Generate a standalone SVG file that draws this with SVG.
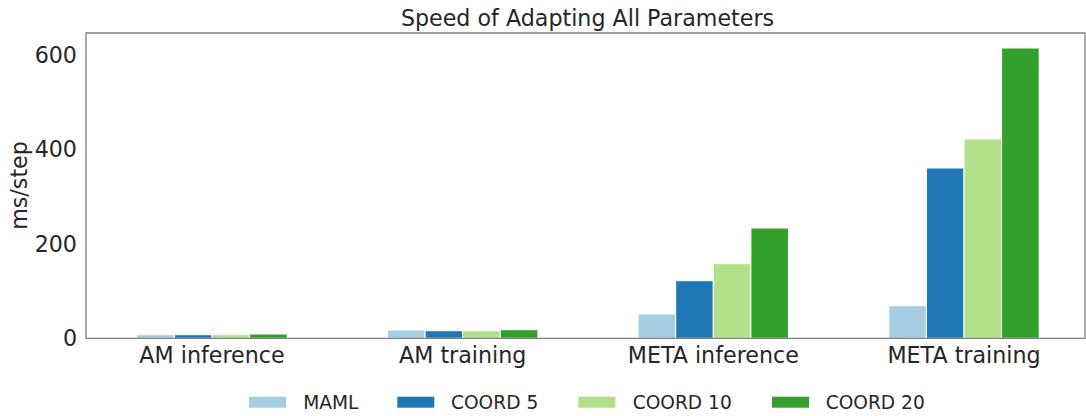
<svg xmlns="http://www.w3.org/2000/svg" width="1086" height="416" viewBox="0 0 1086 416">
<style>
text{font-family:"DejaVu Sans","Liberation Sans",sans-serif;fill:#262626}
.t{font-size:22.2px}
.tick{font-size:22.2px}
.lg{font-size:18.6px}
.b{stroke:#fff;stroke-width:1}
.c1{fill:#a6cee3}.c2{fill:#1f78b4}.c3{fill:#b2df8a}.c4{fill:#33a02c}
.sp{fill:none;stroke:#808080;stroke-width:1.3}
</style>
<rect width="1086" height="416" fill="#fff"/>
<text class="t" x="587.5" y="26" text-anchor="middle">Speed of Adapting All Parameters</text>
<g id="bars">
<g id="am-inference">
<rect class="b c1" x="136.8" y="334.7" width="37.6" height="3.6"/>
<rect class="b c2" x="174.4" y="334.7" width="37.6" height="3.6"/>
<rect class="b c3" x="212" y="334.7" width="37.6" height="3.6"/>
<rect class="b c4" x="249.6" y="334" width="37.6" height="4.3"/>
</g>
<g id="am-training">
<rect class="b c1" x="387.5" y="330" width="37.6" height="8.3"/>
<rect class="b c2" x="425.1" y="330.7" width="37.6" height="7.6"/>
<rect class="b c3" x="462.7" y="330.7" width="37.6" height="7.6"/>
<rect class="b c4" x="500.3" y="329.7" width="37.6" height="8.6"/>
</g>
<g id="meta-inference">
<rect class="b c1" x="638.1" y="314" width="37.6" height="24.3"/>
<rect class="b c2" x="675.7" y="280.7" width="37.6" height="57.6"/>
<rect class="b c3" x="713.3" y="263.7" width="37.6" height="74.6"/>
<rect class="b c4" x="750.9" y="228" width="37.6" height="110.3"/>
</g>
<g id="meta-training">
<rect class="b c1" x="888.8" y="305.7" width="37.6" height="32.6"/>
<rect class="b c2" x="926.4" y="168" width="37.6" height="170.3"/>
<rect class="b c3" x="964" y="139" width="37.6" height="199.3"/>
<rect class="b c4" x="1001.6" y="48" width="37.6" height="290.3"/>
</g>
</g>
<g id="axes">
<path class="sp" d="M86 338.3V33H1085V338.3Z"/>
<g class="tick" text-anchor="end">
<text x="77" y="346.4">0</text>
<text x="77" y="251.9">200</text>
<text x="77" y="157.4">400</text>
<text x="77" y="62.9">600</text>
</g>
<g class="tick" text-anchor="middle">
<text x="212" y="363">AM inference</text>
<text x="462.7" y="363">AM training</text>
<text x="713.3" y="363">META inference</text>
<text x="964" y="363">META training</text>
</g>
<text class="tick" transform="translate(27 185.5) rotate(-90)" text-anchor="middle">ms/step</text>
</g>
<g id="legend">
<rect class="c1" x="249" y="396.7" width="37" height="11"/>
<text class="lg" x="303.3" y="408.5">MAML</text>
<rect class="c2" x="397.3" y="396.7" width="37" height="11"/>
<text class="lg" x="451" y="408.5">COORD 5</text>
<rect class="c3" x="578.3" y="396.7" width="37" height="11"/>
<text class="lg" x="632.7" y="408.5">COORD 10</text>
<rect class="c4" x="772" y="396.7" width="37" height="11"/>
<text class="lg" x="825.7" y="408.5">COORD 20</text>
</g>
</svg>
